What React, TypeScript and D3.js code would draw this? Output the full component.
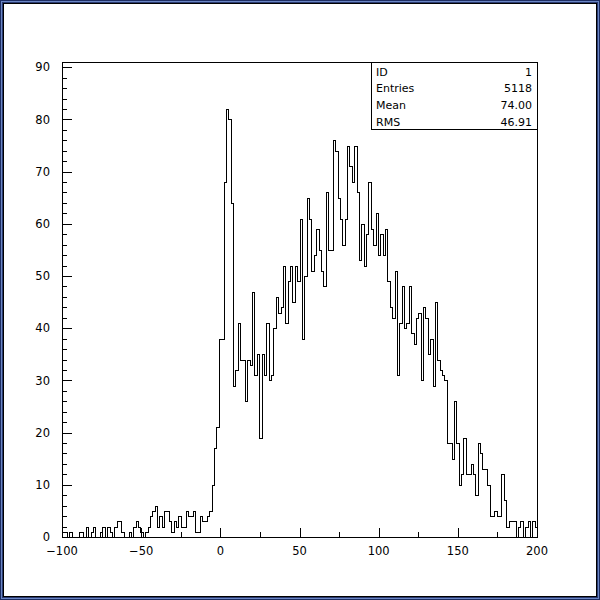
import React from 'react';
import * as d3 from 'd3';

const binLow = -100;
const binHigh = 200;
const counts: number[] = [
  1, 1, 0, 1, 0, 0, 0, 1, 1, 0, 2, 0, 1, 2, 0, 0, 1, 2, 0, 2, 1, 0, 2, 3, 3, 1, 0, 0, 1, 0, 2, 3, 2, 1, 0, 1, 2,
  4, 5, 6, 2, 4, 2, 5, 5, 3, 1, 3, 2, 4, 2, 2, 5, 4, 4, 5, 1, 1, 4, 3, 3,
  4, 5, 10, 17, 21, 38, 38, 68, 82, 80, 64,
  29, 32, 41, 34, 34, 26, 34, 33, 47, 31, 35, 19, 35, 31, 41, 30, 31, 40, 46, 43, 44, 52, 41, 49, 52, 45, 52, 49, 61, 38,
  50, 65, 61, 51, 54, 59, 55, 51, 48, 66, 55, 55, 76, 74, 65, 61, 56, 61, 75, 71, 68, 75, 66, 53, 60, 52,
  58, 68, 59, 56, 62, 54, 58, 54, 59, 49, 44, 42, 51, 31, 41, 48, 40, 41, 48, 39, 37, 42, 43,
  30, 44, 42, 35, 38, 29, 45, 34, 32, 31, 30, 18, 18, 15, 26, 18, 10, 12, 19, 12, 12, 14, 12,
  8, 18, 16, 13, 13, 10, 4, 4, 5, 4, 4, 12, 7, 2, 3, 3, 3, 0, 2, 3, 0, 2, 3, 0, 3, 2,
];
const yMajorTicks = [0, 10, 20, 30, 40, 50, 60, 70, 80, 90];
const xMajorTicks = [-100, -50, 0, 50, 100, 150, 200];
const statsLabels = ['ID', 'Entries', 'Mean', 'RMS'];
const statsValues = ['1', '5118', '74.00', '46.91'];

const W = 600;
const H = 600;
const plotL = 62;
const plotR = 537;
const plotT = 62;
const plotB = 537;
const yMax = 91;

export default function App() {
  const x = d3.scaleLinear().domain([binLow, binHigh]).range([plotL, plotR]);
  const y = d3.scaleLinear().domain([0, yMax]).range([plotB, plotT]);
  const px = (v: number) => Math.round(x(v)) + 0.5;
  const py = (v: number) => Math.round(y(v)) + 0.5;
  const n = counts.length;
  const bw = (binHigh - binLow) / n;

  const pts: [number, number][] = [[px(binLow), py(0)]];
  counts.forEach((c, i) => pts.push([px(binLow + i * bw), py(c)]));
  pts.push([px(binHigh), py(0)]);
  const path = d3.line().curve(d3.curveStepAfter)(pts) || '';

  const yMinor = d3.range(0, 91, 2);
  const xMinor = d3.range(binLow, binHigh + 1, 25);
  const font = '"DejaVu Sans", "Liberation Sans", sans-serif';

  const boxL = 371;
  const boxB = 129;

  return (
    <svg width={W} height={H} style={{ position: 'absolute', left: 0, top: 0, display: 'block' }} shapeRendering="crispEdges">
      <rect x={0} y={0} width={600} height={600} fill="#1d2d62" />
      <rect x={1} y={1} width={598} height={598} fill="#6a86c4" />
      <rect x={2} y={2} width={596} height={596} fill="#2a3a70" />
      <rect x={3} y={3} width={594} height={594} fill="#000000" />
      <rect x={4} y={4} width={592} height={592} fill="#ffffff" />

      {/* plot frame */}
      <rect x={plotL + 0.5} y={plotT + 0.5} width={plotR - plotL} height={plotB - plotT} fill="none" stroke="#000" strokeWidth={1} />

      {/* y ticks */}
      {yMinor.map((v) => {
        const major = v % 10 === 0;
        return (
          <line key={'yt' + v} x1={plotL} x2={plotL + (major ? 10 : 5)} y1={py(v)} y2={py(v)} stroke="#000" strokeWidth={1} />
        );
      })}
      {yMajorTicks.map((v) => (
        <text key={'yl' + v} x={50} y={y(v)} dy="0.36em" textAnchor="end" fontFamily={font} fontSize={11.5} fill="#000">
          {v}
        </text>
      ))}

      {/* x ticks */}
      {xMinor.map((v) => {
        const major = v % 50 === 0;
        return (
          <line key={'xt' + v} x1={px(v)} x2={px(v)} y1={plotB} y2={plotB - (major ? 9 : 5)} stroke="#000" strokeWidth={1} />
        );
      })}
      {xMajorTicks.map((v) => (
        <text key={'xl' + v} x={x(v)} y={555} textAnchor="middle" fontFamily={font} fontSize={11.5} fill="#000">
          {v < 0 ? '\u2212' + Math.abs(v) : String(v)}
        </text>
      ))}

      {/* histogram */}
      <path d={path} fill="none" stroke="#000" strokeWidth={1} />

      {/* stats box */}
      <rect x={boxL + 0.5} y={plotT + 0.5} width={plotR - boxL} height={boxB - plotT} fill="#fff" stroke="#000" strokeWidth={1} />
      {statsLabels.map((s, i) => (
        <text key={'sl' + i} x={376} y={75.5 + i * 16.7} fontFamily={font} fontSize={11} fill="#000">
          {s}
        </text>
      ))}
      {statsValues.map((s, i) => (
        <text key={'sv' + i} x={532} y={75.5 + i * 16.7} textAnchor="end" fontFamily={font} fontSize={11} fill="#000">
          {s}
        </text>
      ))}
    </svg>
  );
}
